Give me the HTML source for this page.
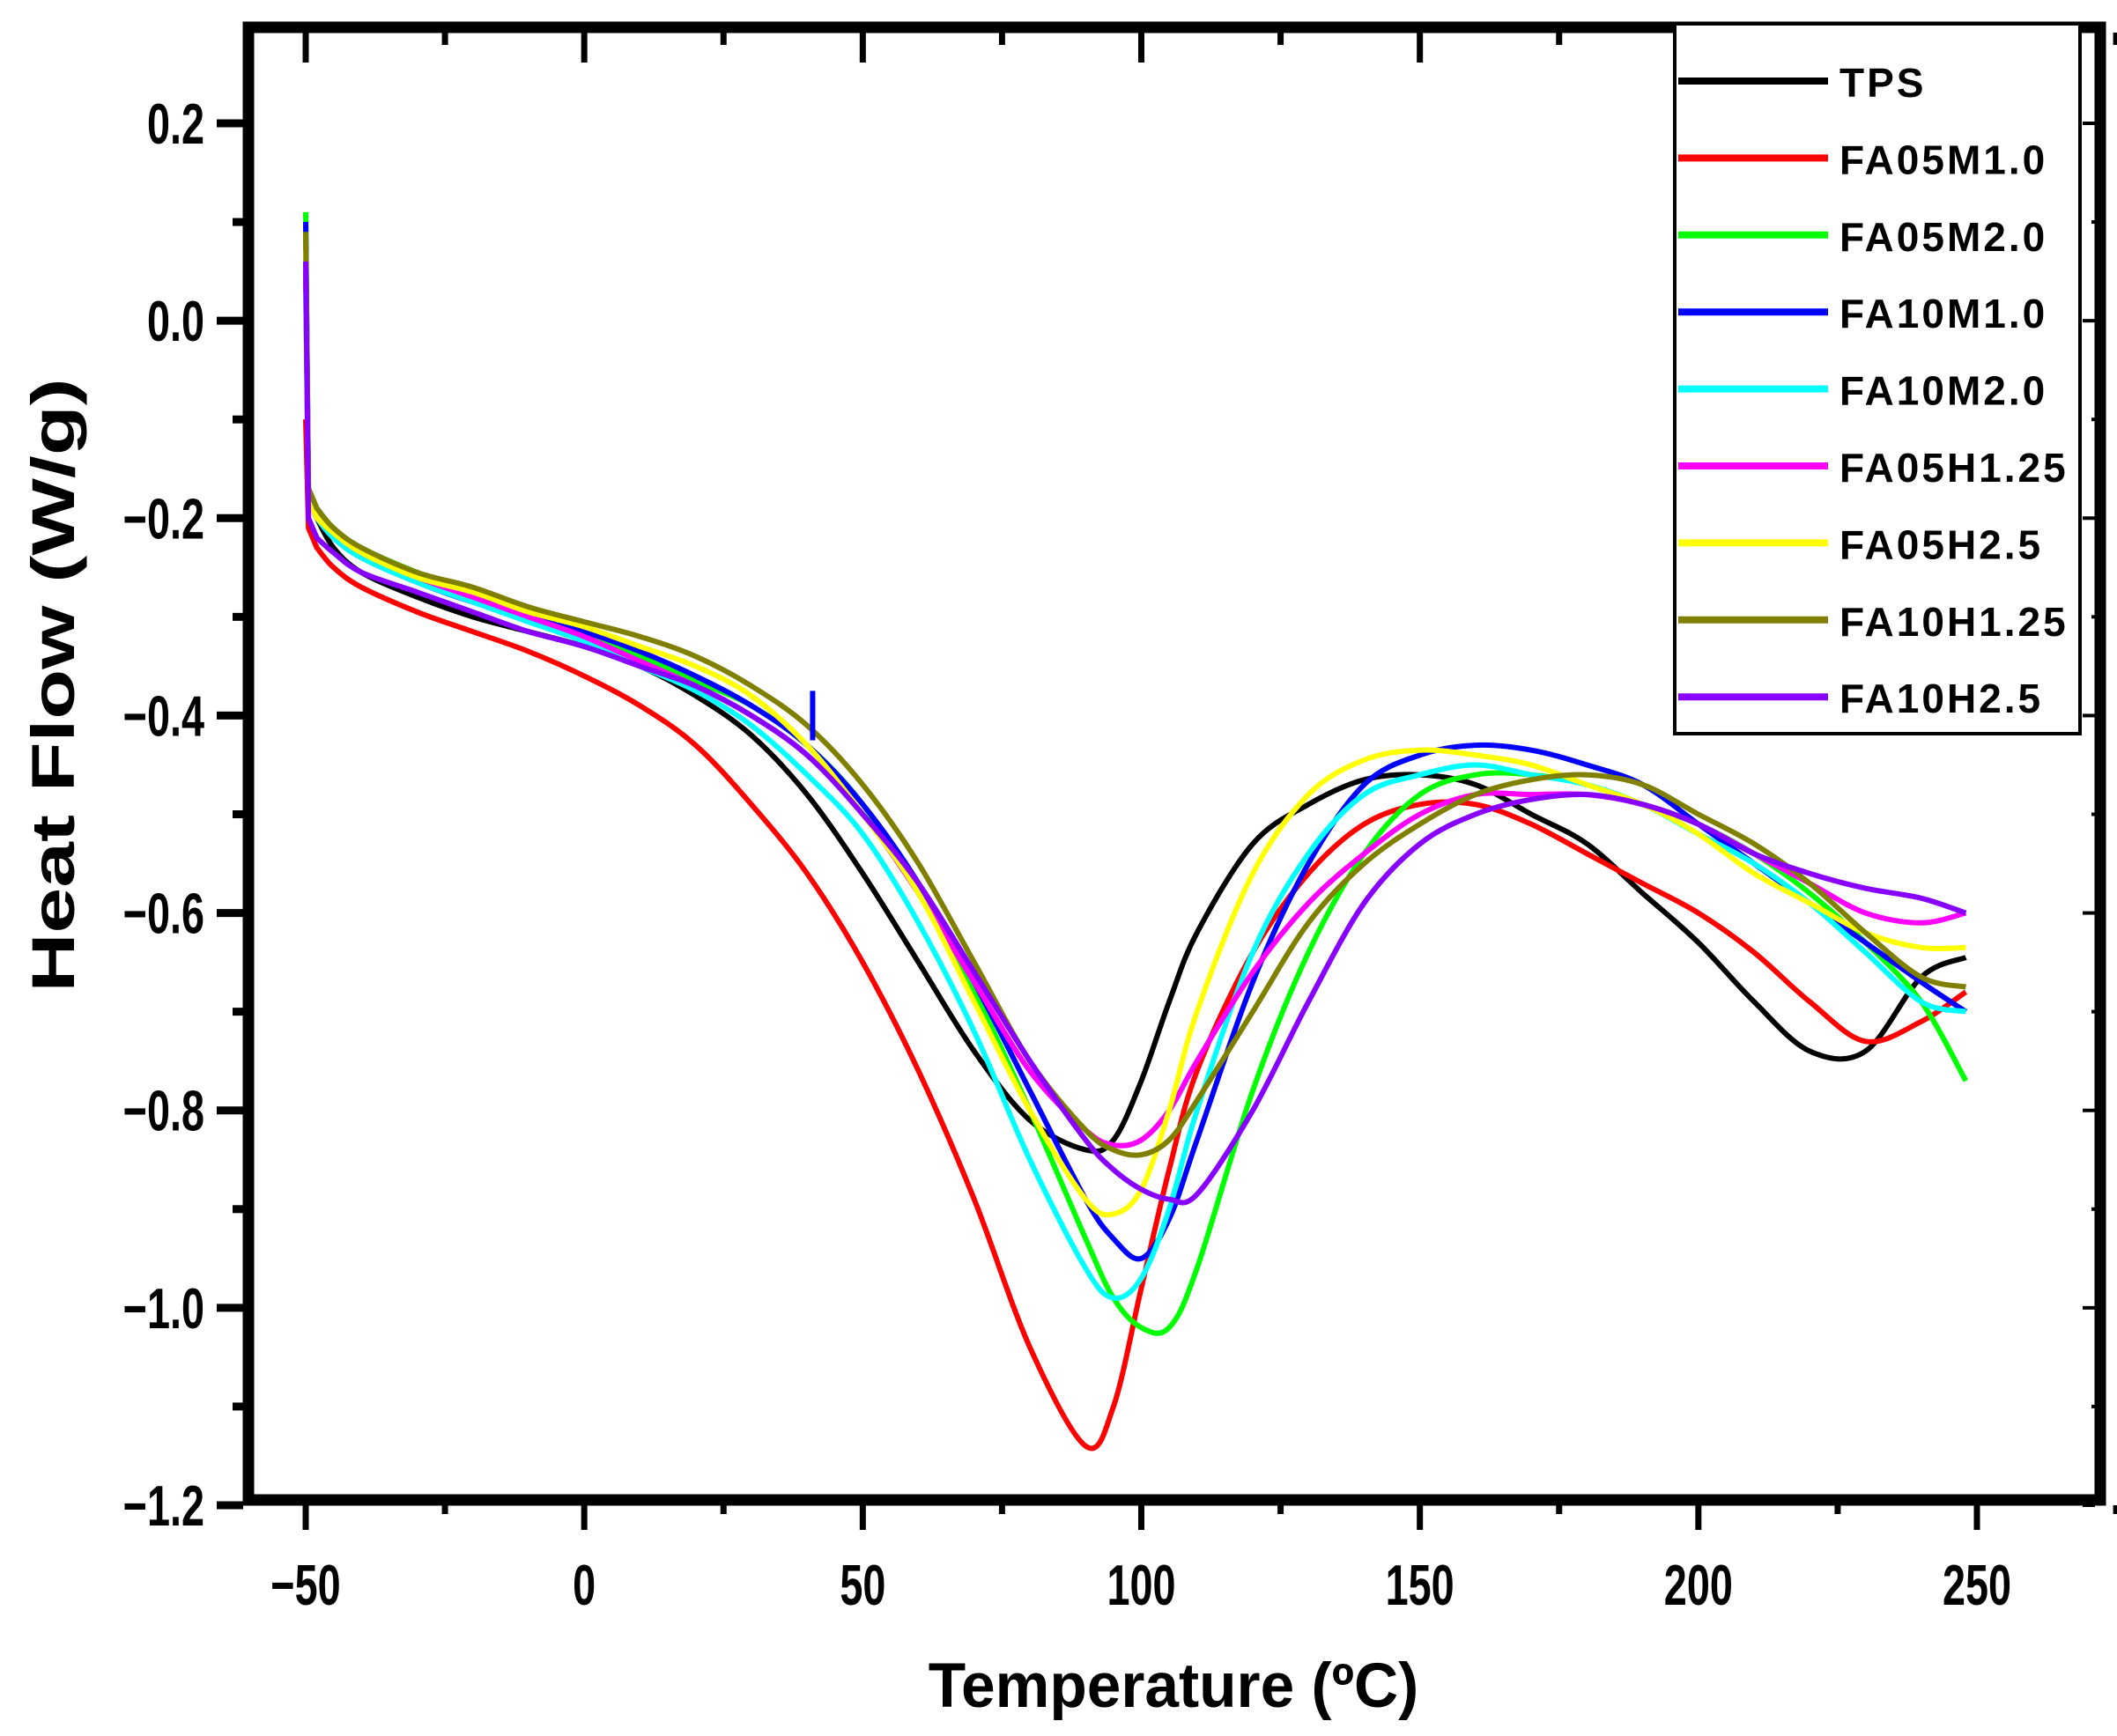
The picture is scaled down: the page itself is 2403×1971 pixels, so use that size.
<!DOCTYPE html>
<html><head><meta charset="utf-8"><style>
html,body{margin:0;padding:0;background:#fff;}
svg{display:block;}
text{font-family:"Liberation Sans",Arial,sans-serif;font-weight:bold;fill:#000;}
</style></head><body>
<svg id="chart" width="2403" height="1971" viewBox="0 0 2403 1971">
<g id="curves"></g>
<g id="axes"></g>
<g id="legend"></g>
</svg>
<script>
const xTicks = [-50, 0, 50, 100, 150, 200, 250];
const yTicks = [0.2, 0.0, -0.2, -0.4, -0.6, -0.8, -1.0, -1.2];
const yTickLabels = ["0.2", "0.0", "\u22120.2", "\u22120.4", "\u22120.6", "\u22120.8", "\u22121.0", "\u22121.2"];
const seriesNames = ["TPS","FA05M1.0","FA05M2.0","FA10M1.0","FA10M2.0","FA05H1.25","FA05H2.5","FA10H1.25","FA10H2.5"];
const seriesColors = ["#000000","#ff0000","#00ff00","#0000ff","#00ffff","#ff00ff","#ffff00","#808000","#8800ff"];
const temps = [-48,-45,-40,-30,-20,-10,0,10,20,30,40,50,60,70,80,90,95,100,105,110,120,130,140,150,160,170,180,190,200,210,220,230,240,248];
const startVals = [0.05,-0.1,0.11,0.10,0.03,0.06,0.07,0.09,0.06];
const sTPS = [-0.2,-0.23,-0.255,-0.28,-0.3,-0.315,-0.33,-0.35,-0.38,-0.42,-0.48,-0.56,-0.65,-0.74,-0.81,-0.84,-0.83,-0.77,-0.69,-0.62,-0.53,-0.49,-0.465,-0.46,-0.47,-0.5,-0.53,-0.58,-0.63,-0.69,-0.74,-0.74,-0.665,-0.645];
const sFA05M10 = [-0.23,-0.25,-0.27,-0.295,-0.315,-0.335,-0.36,-0.39,-0.43,-0.49,-0.56,-0.65,-0.76,-0.89,-1.04,-1.14,-1.1,-0.98,-0.86,-0.76,-0.64,-0.56,-0.51,-0.49,-0.49,-0.51,-0.54,-0.57,-0.6,-0.64,-0.69,-0.73,-0.71,-0.68];
const sFA05M20 = [-0.19,-0.21,-0.23,-0.255,-0.275,-0.295,-0.315,-0.34,-0.365,-0.39,-0.43,-0.49,-0.58,-0.68,-0.8,-0.93,-0.99,-1.02,-1.02,-0.96,-0.78,-0.64,-0.54,-0.48,-0.46,-0.46,-0.47,-0.49,-0.51,-0.54,-0.58,-0.63,-0.69,-0.77];
const sFA10M10 = [-0.2,-0.22,-0.24,-0.265,-0.285,-0.3,-0.315,-0.335,-0.36,-0.39,-0.43,-0.49,-0.57,-0.67,-0.78,-0.89,-0.93,-0.95,-0.91,-0.83,-0.67,-0.55,-0.47,-0.44,-0.43,-0.435,-0.45,-0.47,-0.51,-0.55,-0.59,-0.63,-0.67,-0.7];
const sFA10M20 = [-0.2,-0.22,-0.24,-0.265,-0.285,-0.305,-0.325,-0.35,-0.375,-0.41,-0.46,-0.52,-0.61,-0.72,-0.85,-0.96,-0.99,-0.97,-0.9,-0.8,-0.64,-0.54,-0.48,-0.46,-0.45,-0.46,-0.47,-0.49,-0.52,-0.55,-0.59,-0.64,-0.69,-0.7];
const sFA05H125 = [-0.2,-0.215,-0.235,-0.26,-0.28,-0.3,-0.32,-0.345,-0.37,-0.4,-0.44,-0.5,-0.58,-0.67,-0.76,-0.82,-0.835,-0.83,-0.8,-0.75,-0.66,-0.59,-0.54,-0.5,-0.48,-0.48,-0.48,-0.49,-0.51,-0.54,-0.57,-0.6,-0.61,-0.6];
const sFA05H25 = [-0.2,-0.215,-0.235,-0.26,-0.275,-0.295,-0.31,-0.33,-0.35,-0.38,-0.43,-0.5,-0.58,-0.69,-0.8,-0.89,-0.905,-0.88,-0.8,-0.7,-0.56,-0.48,-0.445,-0.435,-0.44,-0.45,-0.47,-0.49,-0.52,-0.56,-0.59,-0.62,-0.635,-0.635];
const sFA10H125 = [-0.19,-0.21,-0.23,-0.255,-0.27,-0.29,-0.305,-0.32,-0.34,-0.37,-0.41,-0.47,-0.55,-0.65,-0.75,-0.82,-0.84,-0.845,-0.83,-0.79,-0.7,-0.61,-0.55,-0.51,-0.48,-0.465,-0.46,-0.47,-0.5,-0.53,-0.57,-0.62,-0.665,-0.675];
const sFA10H25 = [-0.22,-0.235,-0.255,-0.275,-0.295,-0.315,-0.33,-0.35,-0.37,-0.4,-0.44,-0.5,-0.57,-0.66,-0.75,-0.83,-0.86,-0.88,-0.89,-0.885,-0.8,-0.69,-0.59,-0.53,-0.5,-0.485,-0.48,-0.49,-0.51,-0.54,-0.56,-0.575,-0.585,-0.6];
const allSeries = [sTPS,sFA05M10,sFA05M20,sFA10M10,sFA10M20,sFA05H125,sFA05H25,sFA10H125,sFA10H25];
const blueSpikeT = 41;
const blueSpikeV = [-0.425, -0.375];

const NS="http://www.w3.org/2000/svg";
const L=282,R=2384,T=31,B=1703;
const xS=v=>347+(v+50)*(2244-347)/300;
const yS=v=>140+(0.2-v)*(1709-140)/1.4;
function mk(tag,attrs,parent){const e=document.createElementNS(NS,tag);for(const k in attrs)e.setAttribute(k,attrs[k]);parent.appendChild(e);return e;}
const curves=document.getElementById('curves'),axes=document.getElementById('axes'),legend=document.getElementById('legend');

function smooth(pts){
  let d='';
  for(let i=0;i<pts.length-1;i++){
    const p0=pts[Math.max(0,i-1)],p1=pts[i],p2=pts[i+1],p3=pts[Math.min(pts.length-1,i+2)];
    const c1=[p1[0]+(p2[0]-p0[0])/6,p1[1]+(p2[1]-p0[1])/6],c2=[p2[0]-(p3[0]-p1[0])/6,p2[1]-(p3[1]-p1[1])/6];
    d+=` C${c1[0].toFixed(1)},${c1[1].toFixed(1)} ${c2[0].toFixed(1)},${c2[1].toFixed(1)} ${p2[0].toFixed(1)},${p2[1].toFixed(1)}`;
  }
  return d;
}
allSeries.forEach((s,i)=>{
  const pts=s.map((v,j)=>[xS(temps[j]),yS(v)]);
  let d=`M${xS(-50)},${yS(startVals[i])} L${xS(-49.5)},${yS(s[0]+0.02)} L${pts[0][0]},${pts[0][1]}`+smooth(pts);
  const p=mk('path',{d:d,fill:'none',stroke:seriesColors[i],'stroke-width':6,'stroke-linejoin':'round'},curves);
  
  
});
const sp=mk('line',{x1:xS(blueSpikeT),y1:yS(blueSpikeV[0]),x2:xS(blueSpikeT),y2:yS(blueSpikeV[1]),stroke:'#0000ff','stroke-width':6},curves);



const fr=mk('rect',{x:L,y:T,width:R-L,height:B-T,fill:'none',stroke:'#000','stroke-width':13},axes);


for(let v=-50;v<=275;v+=25){
  const x=xS(v);const major=v%50===0;
  mk('line',{x1:x,y1:B+6,x2:x,y2:B+(major?34:16),stroke:'#000','stroke-width':7},axes);
  mk('line',{x1:x,y1:T+6,x2:x,y2:T+(major?40:20),stroke:'#000','stroke-width':7},axes);
}
xTicks.forEach(v=>{
  const t=mk('text',{x:0,y:0,'font-size':52,'text-anchor':'middle',transform:`translate(${xS(v)},1822) scale(0.9,1.25)`},axes);
  t.textContent=v<0?'\u2212'+Math.abs(v):String(v);
  
  
});
for(let k=0;k<=14;k++){
  const v=0.2-k*0.1;const y=yS(v);const major=k%2===0;
  mk('line',{x1:L-6,y1:y,x2:L-(major?36:18),y2:y,stroke:'#000','stroke-width':9},axes);
  mk('line',{x1:R-6,y1:y,x2:R-(major?20:10),y2:y,stroke:'#000','stroke-width':4},axes);
}
yTicks.forEach((v,i)=>{
  const t=mk('text',{x:0,y:0,'font-size':52,'text-anchor':'end',transform:`translate(232,${yS(v)+23}) scale(0.9,1.25)`},axes);
  t.textContent=yTickLabels[i];
  
  
});
const xt=mk('text',{x:0,y:0,'font-size':62,'text-anchor':'middle',transform:'translate(1332,1938) scale(1.12,1.15)'},axes);
xt.textContent='Temperature (\u00BAC)';


const yt=mk('text',{x:0,y:0,'font-size':62,'text-anchor':'middle',transform:'translate(84,778) rotate(-90) scale(1.5,1.1)'},axes);
yt.textContent='Heat Flow (W/g)';



const lb=mk('rect',{x:1901,y:27,width:460,height:806,fill:'#fff',stroke:'#000','stroke-width':4},legend);


seriesNames.forEach((n,i)=>{
  const y=92+i*87.4;
  const g=mk('g',{},legend);
  
  
  mk('line',{x1:1905,y1:y,x2:2075,y2:y,stroke:seriesColors[i],'stroke-width':8},g);
  const t=mk('text',{x:2088,y:y+18,'font-size':46,'letter-spacing':3},g);
  t.textContent=n;
});
</script>
</body></html>
